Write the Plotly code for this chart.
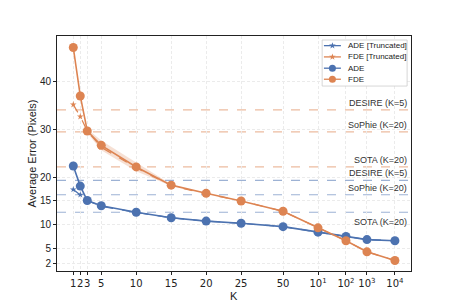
import plotly.graph_objects as go

# ---- data ----
K_labels = ["1", "2", "3", "5", "10", "15", "20", "25", "50",
            "10<sup>1</sup>", "10<sup>2</sup>", "10<sup>3</sup>", "10<sup>4</sup>"]
# axis coordinate of each K label (the chart uses an irregular K scale)
K_pos = [1, 2, 3, 5, 10, 15, 20, 25, 31, 36, 40, 43, 47]

ADE = [22.3, 18.1, 15.1, 14.0, 12.65, 11.5, 10.8, 10.35, 9.65, 8.5, 7.6, 6.95, 6.7]
FDE = [47.0, 36.9, 29.6, 26.6, 22.1, 18.3, 16.6, 15.0, 12.85, 9.4, 6.7, 4.4, 2.6]
ADE_trunc = [17.4, 16.3, 15.1, 13.9, 12.6, 11.5, 10.8, 10.35, 9.65, 8.5, 7.6, 6.95, 6.7]
FDE_trunc = [35.1, 32.6, 29.6, 26.2, 21.9, 18.2, 16.5, 15.0, 12.85, 9.4, 6.7, 4.4, 2.6]

band_idx = [2, 3, 4, 5]
FDE_band_hi = [30.0, 27.6, 23.0, 18.5]
FDE_band_lo = [29.2, 25.6, 21.2, 18.1]

ref_names = ["DESIRE (K=5)", "SoPhie (K=20)", "SOTA (K=20)"]
ref_FDE = [34.0, 29.4, 22.1]
ref_ADE = [19.3, 16.3, 12.65]

y_ticks = [2, 5, 10, 15, 20, 30, 40]

legend_names = ["ADE [Truncated]", "FDE [Truncated]", "ADE", "FDE"]

BLUE = "#4C72B0"
ORANGE = "#DD8452"
FONT = "Liberation Sans, Arial, sans-serif"

fig = go.Figure()

# band
bx = [K_pos[i] for i in band_idx]
fig.add_trace(go.Scatter(x=bx + bx[::-1], y=FDE_band_hi + FDE_band_lo[::-1], mode="lines",
                         fill="toself", fillcolor="rgba(221,132,82,0.25)",
                         line=dict(width=0, color="rgba(0,0,0,0)"), hoverinfo="skip",
                         showlegend=False))

fig.add_trace(go.Scatter(x=K_pos, y=ADE_trunc, mode="lines+markers", showlegend=False,
                         line=dict(color=BLUE, width=1.2, dash="dash"),
                         marker=dict(symbol="star", size=5, color=BLUE)))
fig.add_trace(go.Scatter(x=K_pos, y=FDE_trunc, mode="lines+markers", showlegend=False,
                         line=dict(color=ORANGE, width=1.2, dash="dash"),
                         marker=dict(symbol="star", size=5, color=ORANGE)))
fig.add_trace(go.Scatter(x=K_pos, y=ADE, mode="lines+markers", showlegend=False,
                         line=dict(color=BLUE, width=1.6),
                         marker=dict(symbol="circle", size=9, color=BLUE)))
fig.add_trace(go.Scatter(x=K_pos, y=FDE, mode="lines+markers", showlegend=False,
                         line=dict(color=ORANGE, width=1.6),
                         marker=dict(symbol="circle", size=9, color=ORANGE)))

shapes = []
annotations = []
for name, v in zip(ref_names, ref_FDE):
    shapes.append(dict(type="line", xref="paper", x0=0, x1=1, yref="y", y0=v, y1=v,
                       line=dict(color="rgba(221,132,82,0.55)", width=1.2, dash="dash"),
                       layer="below"))
    annotations.append(dict(xref="paper", x=1, xanchor="right", xshift=-2, yref="y", y=v,
                            yanchor="bottom", text=name, showarrow=False,
                            font=dict(size=9, color="#333")))
for i, (name, v) in enumerate(zip(ref_names, ref_ADE)):
    shapes.append(dict(type="line", xref="paper", x0=0, x1=1, yref="y", y0=v, y1=v,
                       line=dict(color="rgba(76,114,176,0.55)", width=1.2, dash="dash"),
                       layer="below"))
    below = (i == 2)
    annotations.append(dict(xref="paper", x=1, xanchor="right", xshift=-2, yref="y", y=v,
                            yanchor="top" if below else "bottom",
                            yshift=-3 if below else 0,
                            text=name, showarrow=False,
                            font=dict(size=9, color="#333")))

# ---- hand-built legend (on an overlay axis spanning the plot area, 0..1) ----
lx0, lx1, ly0, ly1 = 0.749, 0.989, 0.787, 0.983
fig.add_trace(go.Scatter(x=[lx0, lx1, lx1, lx0, lx0], y=[ly0, ly0, ly1, ly1, ly0],
                         mode="lines", fill="toself", fillcolor="white",
                         line=dict(color="#cccccc", width=0.8),
                         xaxis="x2", yaxis="y2", hoverinfo="skip", showlegend=False))
entry_y = [0.959, 0.911, 0.863, 0.816]
styles = [(BLUE, "star", 5), (ORANGE, "star", 5), (BLUE, "circle", 7), (ORANGE, "circle", 7)]
for name, ey, (col, sym, sz) in zip(legend_names, entry_y, styles):
    fig.add_trace(go.Scatter(x=[0.754, 0.802], y=[ey, ey], mode="lines",
                             line=dict(color=col, width=1.3),
                             xaxis="x2", yaxis="y2", hoverinfo="skip", showlegend=False))
    fig.add_trace(go.Scatter(x=[0.778], y=[ey], mode="markers",
                             marker=dict(symbol=sym, size=sz, color=col),
                             xaxis="x2", yaxis="y2", hoverinfo="skip", showlegend=False))
    annotations.append(dict(xref="x2", yref="y2", x=0.816, y=ey, xanchor="left",
                            yanchor="middle", text=name, showarrow=False,
                            font=dict(size=8, color="#222")))

# axis titles
annotations.append(dict(xref="paper", yref="paper", x=-0.0734, y=0.5, textangle=-90,
                        text="Average Error (Pixels)", showarrow=False,
                        xanchor="center", yanchor="middle",
                        font=dict(size=11, color="#222")))
annotations.append(dict(xref="paper", yref="paper", x=0.5, y=-0.106,
                        text="K", showarrow=False, xanchor="center", yanchor="middle",
                        font=dict(size=11, color="#222")))

GRID = "#ebebeb"
fig.update_layout(
    width=457, height=305,
    margin=dict(l=57, r=46, t=36, b=34, autoexpand=False),
    paper_bgcolor="white", plot_bgcolor="white",
    font=dict(family=FONT, color="#222"),
    shapes=shapes, annotations=annotations,
    showlegend=False,
    xaxis=dict(range=[-1.33, 49.3], tickmode="array", tickvals=K_pos,
               ticktext=K_labels, tickangle=0, automargin=False,
               showline=True, linecolor="#222", linewidth=1, mirror=True,
               ticks="outside", ticklen=3, tickcolor="#222",
               showgrid=True, gridcolor=GRID, gridwidth=0.8, griddash="3px,2px",
               zeroline=False,
               tickfont=dict(family="DejaVu Sans", size=10)),
    yaxis=dict(range=[0.4, 49.4], tickmode="array", tickvals=y_ticks, automargin=False,
               showline=True, linecolor="#222", linewidth=1, mirror=True,
               ticks="outside", ticklen=3, tickcolor="#222",
               showgrid=True, gridcolor=GRID, gridwidth=0.8, griddash="3px,2px",
               zeroline=False, tickfont=dict(size=10)),
    xaxis2=dict(overlaying="x", range=[0, 1], visible=False, fixedrange=True,
                automargin=False),
    yaxis2=dict(overlaying="y", range=[0, 1], visible=False, fixedrange=True,
                automargin=False),
)

fig.write_html("out.html", config={"displayModeBar": False},
               post_script="document.body.style.margin='0';")
